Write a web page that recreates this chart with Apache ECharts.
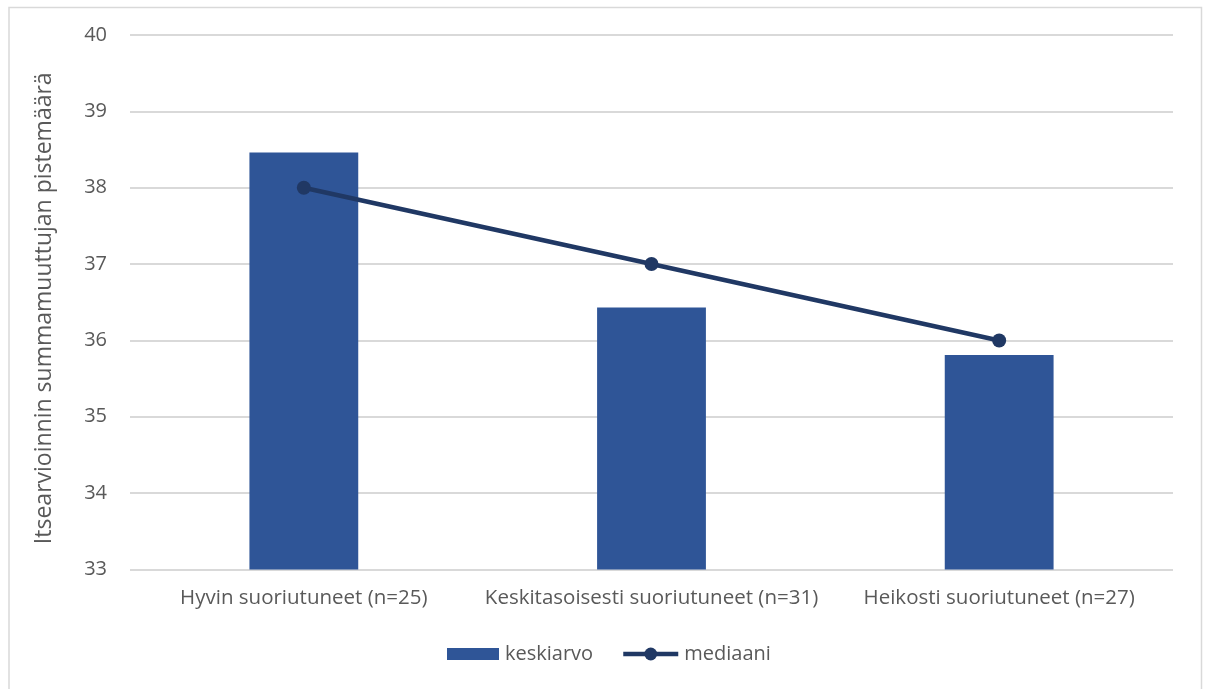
<!DOCTYPE html>
<html>
<head>
<meta charset="utf-8">
<script src="https://cdn.jsdelivr.net/npm/echarts@6/dist/echarts.min.js"></script>
<style>
  html, body { margin: 0; padding: 0; background: #fff; }
  #chart { width: 1208px; height: 689px; }
</style>
</head>
<body>
<div id="chart"></div>
<script>
// Ryhmät ja niiden itsearvioinnin summamuuttujan tunnusluvut
const categories = [
  'Hyvin suoriutuneet (n=25)',
  'Keskitasoisesti suoriutuneet (n=31)',
  'Heikosti suoriutuneet (n=27)'
];
const keskiarvo = [38.46, 36.43, 35.81];
const mediaani = [38, 37, 36];
const yTicks = [33, 34, 35, 36, 37, 38, 39, 40];

const FONT = '"Open Sans", "Noto Sans", sans-serif';
const TEXT = '#595959';
const BAR = '#2f5597';
const LINE = '#203864';

const legendText = { fontFamily: FONT, fontSize: 20, color: TEXT, padding: [0, 0, 0, 1] };

const chart = echarts.init(document.getElementById('chart'));
chart.setOption({
  animation: false,
  backgroundColor: '#ffffff',
  textStyle: { fontFamily: FONT, color: TEXT },
  graphic: [{
    type: 'rect',
    shape: { x: 9, y: 7.5, width: 1192.5, height: 700 },
    style: { fill: 'none', stroke: '#d9d9d9', lineWidth: 1.5 },
    silent: true
  }],
  grid: { left: 130, right: 35, top: 35, bottom: 119.5 },
  // two legend blocks so the swatch and the line marker can have their own heights
  legend: [
    {
      left: 442,
      top: 639,
      padding: 5,
      itemWidth: 52,
      itemHeight: 12,
      textStyle: legendText,
      data: [{ name: 'keskiarvo', icon: 'rect' }]
    },
    {
      left: 616,
      top: 639,
      padding: 5,
      itemWidth: 55,
      itemHeight: 16,
      textStyle: legendText,
      data: [{
        name: 'mediaani',
        lineStyle: { width: 4.5, color: LINE },
        itemStyle: { color: LINE }
      }]
    }
  ],
  xAxis: {
    type: 'category',
    data: categories,
    axisTick: { show: false },
    axisLine: { show: false },
    axisLabel: { interval: 0, fontFamily: FONT, fontSize: 20.5, color: TEXT, margin: 18 }
  },
  yAxis: {
    type: 'value',
    min: yTicks[0],
    max: yTicks[yTicks.length - 1],
    interval: 1,
    name: 'Itsearvioinnin summamuuttujan pistemäärä',
    nameLocation: 'middle',
    nameGap: 74,
    nameTextStyle: { fontFamily: FONT, fontSize: 23, color: TEXT, padding: [0, 12, 0, 0] },
    axisLine: { show: false },
    axisTick: { show: false },
    axisLabel: { fontFamily: FONT, fontSize: 20, color: TEXT, margin: 23 },
    splitLine: { lineStyle: { color: '#d9d9d9', width: 2 } }
  },
  series: [
    {
      name: 'keskiarvo',
      type: 'bar',
      data: keskiarvo,
      barWidth: '31.3%',
      itemStyle: { color: BAR }
    },
    {
      name: 'mediaani',
      type: 'line',
      data: mediaani,
      symbol: 'circle',
      symbolSize: 14,
      lineStyle: { color: LINE, width: 4.5 },
      itemStyle: { color: LINE }
    }
  ]
});
</script>
</body>
</html>
